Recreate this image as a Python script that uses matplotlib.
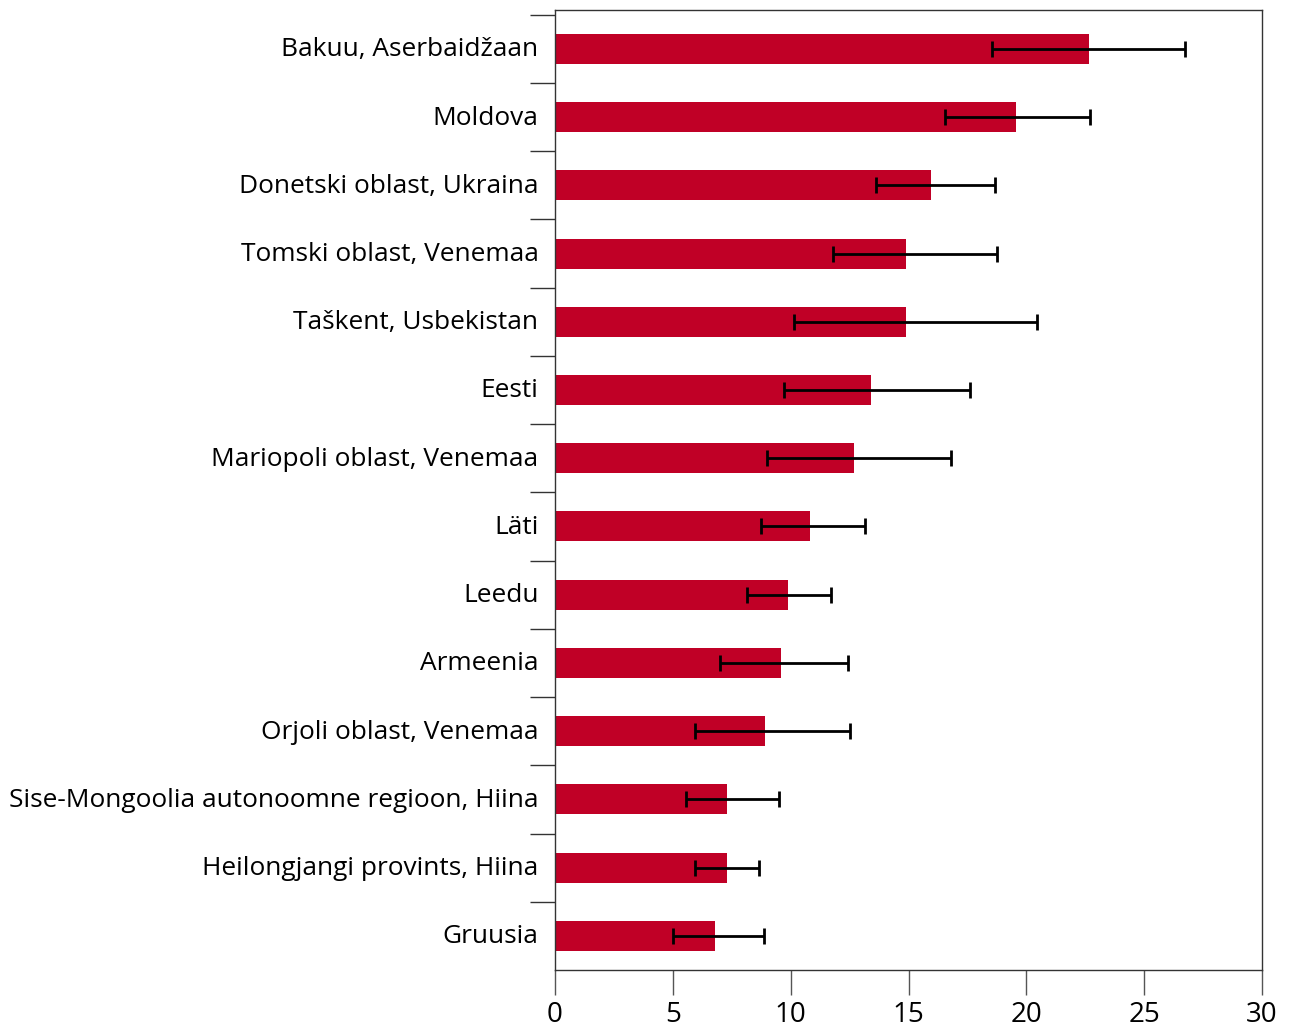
import numpy as np
import matplotlib.pyplot as plt

# data, top to bottom as in the chart
regions = [
    'Bakuu, Aserbaidžaan',
    'Moldova',
    'Donetski oblast, Ukraina',
    'Tomski oblast, Venemaa',
    'Taškent, Usbekistan',
    'Eesti',
    'Mariopoli oblast, Venemaa',
    'Läti',
    'Leedu',
    'Armeenia',
    'Orjoli oblast, Venemaa',
    'Sise-Mongoolia autonoomne regioon, Hiina',
    'Heilongjangi provints, Hiina',
    'Gruusia',
]
values = [22.65, 19.55, 15.95, 14.9, 14.9, 13.4, 12.7, 10.8, 9.9, 9.6, 8.9, 7.3, 7.3, 6.8]
ci_low = [18.55, 16.55, 13.6, 11.8, 10.15, 9.7, 9.0, 8.75, 8.15, 7.0, 5.95, 5.55, 5.95, 5.0]
ci_high = [26.75, 22.7, 18.65, 18.75, 20.45, 17.6, 16.8, 13.15, 11.7, 12.45, 12.5, 9.5, 8.65, 8.85]
x_ticks = [0, 5, 10, 15, 20, 25, 30]

plt.rcParams['font.family'] = ['Open Sans', 'DejaVu Sans']

n = len(regions)
y = np.arange(n)[::-1]
vals = np.array(values)
err = np.array([vals - np.array(ci_low), np.array(ci_high) - vals])

fig = plt.figure(figsize=(12.92, 10.31), dpi=100)
ax = fig.add_axes([0.4296, 0.0592, 0.5472, 0.9311])

ax.barh(y, vals, height=0.44, color='#C00026', zorder=2)
ax.errorbar(vals, y, xerr=err, fmt='none', ecolor='black', elinewidth=2,
            capsize=6, capthick=2, zorder=3)

ax.set_xlim(0, 30)
ax.set_ylim(-0.5, n - 0.43)
ax.set_xticks(x_ticks)
ax.set_xticklabels([str(t) for t in x_ticks], fontsize=20)
ax.tick_params(axis='x', direction='out', length=18, width=1, color='#555555', pad=4)

ax.set_yticks(y + 0.03)
ax.set_yticklabels(regions, fontsize=18.9)
ax.tick_params(axis='y', which='major', length=0, pad=12)
ax.set_yticks(np.arange(n) - 0.5 + 1, minor=True)
ax.tick_params(axis='y', which='minor', direction='out', length=18, width=1, color='#333333')

for s in ax.spines.values():
    s.set_color('#333333')
    s.set_linewidth(1)

plt.savefig('out.png')
